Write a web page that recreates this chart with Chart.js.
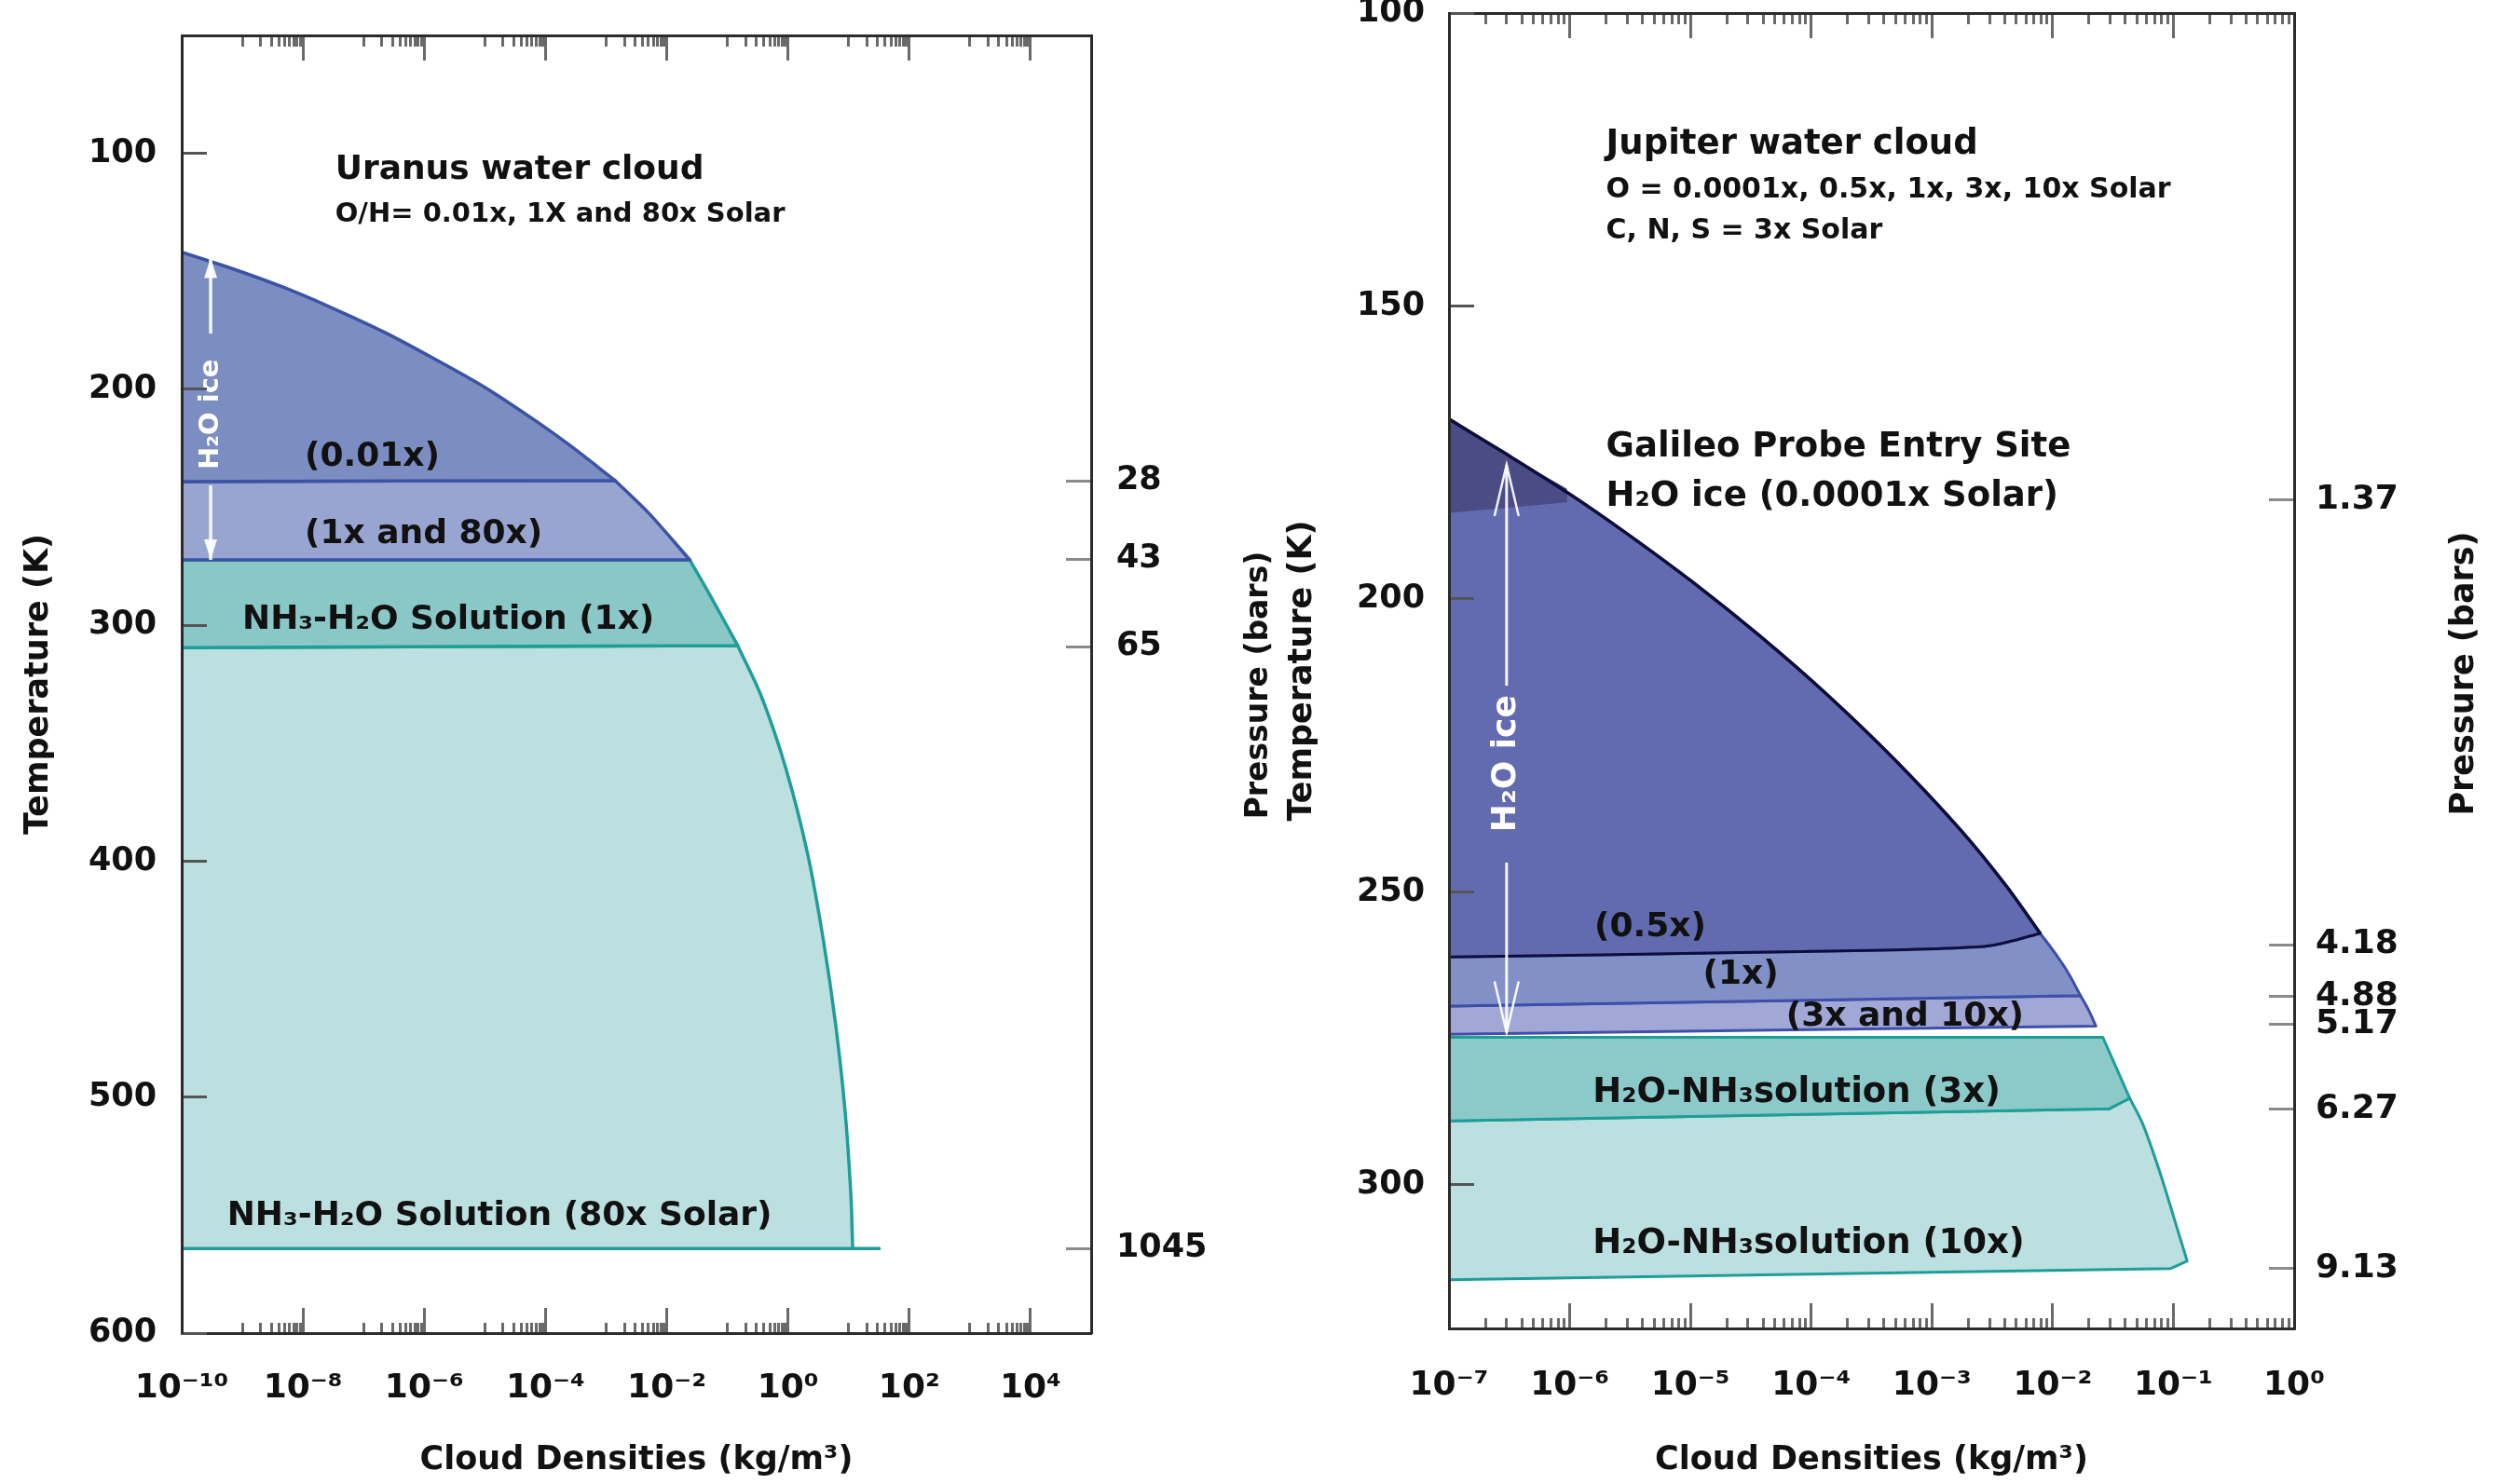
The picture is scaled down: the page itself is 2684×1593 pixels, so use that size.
<!DOCTYPE html>
<html>
<head>
<meta charset="utf-8">
<script src="https://cdn.jsdelivr.net/npm/chart.js@4.4.1/dist/chart.umd.min.js"></script>
<style>
  html, body { margin: 0; padding: 0; background: #fff; }
  #wrap { position: relative; width: 2684px; height: 1593px; }
  #uranusBox { position: absolute; left: 0; top: 0; width: 1375px; height: 1593px; }
  #jupiterBox { position: absolute; left: 1375px; top: 0; width: 1309px; height: 1593px; }
</style>
</head>
<body>
<div id="wrap">
  <div id="uranusBox"><canvas id="uranus"></canvas></div>
  <div id="jupiterBox"><canvas id="jupiter"></canvas></div>
</div>
<script>
/*
================================================================
Data - Uranus water cloud (left)
density in kg/m3, temperature in K
================================================================
*/
const uranusTempTicks = [100, 200, 300, 400, 500, 600];
const uranusPressureLabels = ['28', '43', '65', '1045'];
const uranusPressureT = [238.8, 271.9, 309.1, 564.2];
const uranusMajorExp = [-10, -8, -6, -4, -2, 0, 2, 4];
const uranusMinorDecades = [-9, -7, -5, -3, -1, 1, 3];

// ice saturation curve (0.01x part ends at index 9)
const uranusIceRho = [1e-10, 6.9e-10, 4.8e-9, 3.2e-8, 2.2e-7, 1.5e-6, 1.1e-5, 7.4e-5, 2.6e-4, 1.4e-3, 5.1e-3, 2.4e-2];
const uranusIceT = [141.9, 148.9, 156.8, 165.8, 175.8, 187.2, 199.8, 213.9, 224.0, 238.6, 252.6, 272.3];
// NH3-H2O solution edge (1x part ends at index 2)
const uranusSolRho = [2.4e-2, 5.4e-2, 0.148, 0.358, 0.918, 2.1, 3.8, 6.1, 8.7, 10.9, 11.6];
const uranusSolT = [272.3, 288.1, 308.6, 329.7, 360.5, 396.7, 432.9, 469.1, 505.4, 541.6, 562.4];
// flat bottoms of the bands, at the left axis
const uranusBandBaseT = [239.1, 272.3, 309.5, 564.2];
// bottom line of the 80x solution runs out to this density
const uranusSol80BaseRho = [11.7, 32];

/*
================================================================
Data - Jupiter water cloud (right)
================================================================
*/
const jupiterTempTicks = [100, 150, 200, 250, 300];
const jupiterPressureLabels = ['1.37', '4.18', '4.88', '5.17', '6.27', '9.13'];
const jupiterPressureT = [183.1, 259.0, 267.8, 272.6, 287.0, 314.3];
const jupiterMajorExp = [-7, -6, -5, -4, -3, -2, -1, 0];
const jupiterMinorDecades = [-7, -6, -5, -4, -3, -2, -1];

// ice saturation curve and outer edge (0.5x ends at 10, 1x at 13, 3x/10x at 15)
const jupCurveRho = [1e-7, 3.0e-7, 1.0e-6, 3.0e-6, 1.07e-5, 3.8e-5, 1.35e-4, 4.9e-4, 1.74e-3, 4.1e-3, 7.9e-3, 1.05e-2, 1.36e-2, 1.7e-2, 2.0e-2, 2.28e-2];
const jupCurveT = [169.3, 175.3, 182.1, 188.9, 197.3, 206.4, 216.3, 227.4, 239.5, 248.9, 257.1, 260.5, 264.0, 267.7, 270.3, 272.9];
// bottom of 0.5x band, right to left
const jupHalfBaseRho = [7.9e-3, 2.7e-3, 3.2e-5, 1e-7];
const jupHalfBaseT = [257.1, 259.3, 260.3, 261.1];
// 0.0001x patch (Galileo probe entry site)
const jupDarkRho = [1e-7, 3.0e-7, 9.5e-7, 9.5e-7, 1e-7];
const jupDarkT = [169.3, 175.3, 181.2, 183.5, 185.3];
// left ends of the 1x and 3x/10x band bottoms
const jupBandBaseT = [269.5, 274.3];
// H2O-NH3 solution 3x (corners)
const jupSol3Rho = [1e-7, 2.6e-2, 4.35e-2, 2.95e-2, 1e-7];
const jupSol3T = [274.8, 274.8, 285.2, 287.0, 289.1];
// H2O-NH3 solution 10x right edge, then bottom corners
const jupSol10Rho = [4.35e-2, 5.6e-2, 7.8e-2, 0.101, 0.130];
const jupSol10T = [285.2, 289.7, 298.1, 305.6, 313.0];
const jupSol10BaseRho = [9.4e-2, 1e-7];
const jupSol10BaseT = [314.3, 316.2];

// text placed on the plots (rho / t are data coords of the left-middle of the text)
const uranusNotes = [
    { text: 'Uranus water cloud', rho: 3.4e-8, t: 107.2, size: 36 },
    { text: 'O/H= 0.01x, 1X and 80x Solar', rho: 3.4e-8, t: 126, size: 29 },
    { text: '(0.01x)', rho: 1.07e-8, t: 228.9, size: 36 },
    { text: '(1x and 80x)', rho: 1.07e-8, t: 261.3, size: 36 },
    { text: 'NH₃-H₂O Solution (1x)', rho: 1e-9, t: 297.7, size: 36 },
    { text: 'NH₃-H₂O Solution (80x Solar)', rho: 5.6e-10, t: 550.7, size: 36 },
    { text: 'H₂O ice', rho: 3.0e-10, t: 210.6, size: 29, color: '#fff', vertical: true }
];
const uranusArrows = [
    { rho: 3.0e-10, from: 176.4, to: 144.2, head: 'solid' },
    { rho: 3.0e-10, from: 240.8, to: 272.3, head: 'solid' }
];
const jupiterNotes = [
    { text: 'Jupiter water cloud', rho: 2.0e-6, t: 122.5, size: 37 },
    { text: 'O = 0.0001x, 0.5x, 1x, 3x, 10x Solar', rho: 2.0e-6, t: 130.2, size: 30 },
    { text: 'C, N, S = 3x Solar', rho: 2.0e-6, t: 137.2, size: 30 },
    { text: 'Galileo Probe Entry Site', rho: 2.0e-6, t: 174.1, size: 37 },
    { text: 'H₂O ice (0.0001x Solar)', rho: 2.0e-6, t: 182.6, size: 37 },
    { text: '(0.5x)', rho: 1.6e-6, t: 256.0, size: 36 },
    { text: '(1x)', rho: 1.27e-5, t: 264.2, size: 36 },
    { text: '(3x and 10x)', rho: 6.2e-5, t: 271.4, size: 36 },
    { text: 'H₂O-NH₃solution (3x)', rho: 1.55e-6, t: 284.3, size: 37 },
    { text: 'H₂O-NH₃solution (10x)', rho: 1.55e-6, t: 310.1, size: 37 },
    { text: 'H₂O ice', rho: 3.0e-7, t: 228.1, size: 36, color: '#fff', vertical: true }
];
const jupiterArrows = [
    { rho: 3.0e-7, from: 214.8, to: 177.1, head: 'open' },
    { rho: 3.0e-7, from: 245.0, to: 274.0, head: 'open' }
];

/*
================================================================
Helpers
================================================================
*/
const FAMILY = '"DejaVu Sans", "Liberation Sans", sans-serif';
Chart.defaults.font.family = FAMILY;
Chart.defaults.color = '#111';

const fontB = (size) => ({ size: size, weight: 'bold', family: FAMILY });

const SUP = '⁻⁰¹²³⁴⁵⁶⁷⁸⁹';
const sup = (n) => String(n).split('').map(c => SUP['-0123456789'.indexOf(c)]).join('');

// piece of a boundary: [xs, ys], optionally sliced
const piece = (xs, ys, from, to) => [xs.slice(from, to), ys.slice(from, to)];
// single corner point
const corner = (x, y) => [[x], [y]];

// join pieces into one path; piece ends are doubled so the spline keeps sharp corners
const shape = (pieces) => {
    let pts = [];
    pieces.forEach(p => {
        const xs = p[0], ys = p[1];
        xs.forEach((x, i) => {
            pts.push({ x: x, y: ys[i] });
            if (i === 0 || i === xs.length - 1) pts.push({ x: x, y: ys[i] });
        });
    });
    return pts;
}
// plain polygon, every vertex is a corner
const poly = (xs, ys) => shape(xs.map((x, i) => corner(x, ys[i])));

// log ticks: labelled decades + short minor ticks k*10^d
const logTicks = (majors, minorDecades, kFrom) => {
    let ticks = [];
    majors.forEach(e => ticks.push({ value: Math.pow(10, e), isMajor: true, exp: e }));
    minorDecades.forEach(d => {
        for (let k = kFrom; k <= 9; k++) {
            ticks.push({ value: k * Math.pow(10, d), isMajor: false });
        }
    });
    return ticks.sort((a, b) => a.value - b.value);
}

// fixed axis size so the plot area lands where it should
const fixSize = (prop, size) => (axis) => {
    axis[prop] = size;
    axis.paddingTop = 0; axis.paddingBottom = 0; axis.paddingLeft = 0; axis.paddingRight = 0;
}

const region = (pts, fillColor, lineColor, width) => ({
    data: pts,
    fill: fillColor ? 'shape' : false,
    backgroundColor: fillColor || 'rgba(0,0,0,0)',
    borderColor: lineColor,
    borderWidth: width,
    borderJoinStyle: 'round',
    pointRadius: 0,
    pointHoverRadius: 0,
    tension: 0.3
});

const border = { display: true, color: '#2b2b2b', width: 3, z: 1 };

const xAxis = (min, max, majors, minors, kFrom, height, pad, titlePad) => ({
    type: 'logarithmic', position: 'bottom', min: min, max: max,
    afterBuildTicks: axis => { axis.ticks = logTicks(majors, minors, kFrom); },
    afterFit: fixSize('height', height),
    ticks: {
        autoSkip: false, maxRotation: 0, minRotation: 0, padding: pad, font: fontB(36), color: '#111',
        callback: (v, i, t) => t[i].isMajor ? '10' + sup(t[i].exp) : ''
    },
    grid: {
        drawOnChartArea: false, drawTicks: true, tickLength: -27, tickWidth: 3, tickColor: '#6a6a6a', z: 1,
        tickBorderDash: c => (c.tick && c.tick.isMajor) ? [] : [13, 200]
    },
    border: border,
    title: { display: true, text: 'Cloud Densities (kg/m³)', font: fontB(35), color: '#111', padding: { top: 0, bottom: titlePad } }
});

const xTopAxis = (min, max, majors, minors, kFrom, height) => ({
    type: 'logarithmic', position: 'top', min: min, max: max,
    afterBuildTicks: axis => { axis.ticks = logTicks(majors, minors, kFrom); },
    afterFit: fixSize('height', height),
    ticks: { display: false, autoSkip: false },
    grid: {
        drawOnChartArea: false, drawTicks: true, tickLength: -27, tickWidth: 3, tickColor: '#6a6a6a', z: 1,
        tickBorderDash: c => (c.tick && c.tick.isMajor) ? [] : [13, 200],
        tickBorderDashOffset: c => (c.tick && c.tick.isMajor) ? 0 : 198
    },
    border: border
});

const tempAxis = (min, max, values, width, pad, titlePad) => ({
    type: 'linear', position: 'left', reverse: true, min: min, max: max,
    afterBuildTicks: axis => { axis.ticks = values.map(v => ({ value: v })); },
    afterFit: fixSize('width', width),
    ticks: { padding: pad, font: fontB(35), color: '#111', callback: v => String(v) },
    grid: { drawOnChartArea: false, drawTicks: true, tickLength: -27, tickWidth: 3, tickColor: '#555', z: 1 },
    border: border,
    title: { display: true, text: 'Temperature (K)', font: fontB(35), color: '#111', padding: { top: titlePad, bottom: 0 } }
});

const pressureAxis = (min, max, temps, labels, width, pad, size) => ({
    type: 'linear', position: 'right', reverse: true, min: min, max: max,
    afterBuildTicks: axis => { axis.ticks = temps.map(v => ({ value: v })); },
    afterFit: fixSize('width', width),
    ticks: { padding: pad, font: fontB(size), color: '#111', callback: (v, i) => labels[i] },
    grid: { drawOnChartArea: false, drawTicks: true, tickLength: -27, tickWidth: 3, tickColor: '#8a8a8a', z: 1 },
    border: border
});

// texts, white H2O ice arrows and the right-hand "Pressure (bars)" title
const notesPlugin = (notes, arrows, side) => ({
    id: 'notes',
    afterDatasetsDraw(chart) {
        const { ctx, chartArea } = chart;
        const x = chart.scales.x, y = chart.scales.y;
        ctx.save();
        notes.forEach(n => {
            const px = x.getPixelForValue(n.rho), py = y.getPixelForValue(n.t);
            ctx.font = 'bold ' + n.size + 'px ' + FAMILY;
            ctx.fillStyle = n.color || '#111';
            ctx.textBaseline = 'middle';
            if (n.vertical) {
                ctx.save();
                ctx.translate(px, py);
                ctx.rotate(-Math.PI / 2);
                ctx.textAlign = 'center';
                ctx.fillText(n.text, 0, 0);
                ctx.restore();
            } else {
                ctx.textAlign = 'left';
                ctx.fillText(n.text, px, py);
            }
        });
        arrows.forEach(a => {
            const px = x.getPixelForValue(a.rho);
            const y0 = y.getPixelForValue(a.from), y1 = y.getPixelForValue(a.to);
            const dir = Math.sign(y1 - y0);
            ctx.strokeStyle = 'rgba(255,255,255,0.92)';
            ctx.fillStyle = 'rgba(255,255,255,0.92)';
            ctx.lineWidth = a.head === 'solid' ? 3.5 : 3;
            ctx.beginPath();
            ctx.moveTo(px, y0);
            ctx.lineTo(px, y1);
            ctx.stroke();
            if (a.head === 'solid') {
                ctx.beginPath();
                ctx.moveTo(px, y1);
                ctx.lineTo(px - 7, y1 - dir * 22);
                ctx.lineTo(px + 7, y1 - dir * 22);
                ctx.closePath();
                ctx.fill();
            } else {
                ctx.lineWidth = 2.5;
                ctx.beginPath();
                ctx.moveTo(px - 13, y1 - dir * 55);
                ctx.lineTo(px, y1);
                ctx.lineTo(px + 13, y1 - dir * 55);
                ctx.stroke();
            }
        });
        if (side) {
            ctx.save();
            ctx.translate(chartArea.right + side.dx, (chartArea.top + chartArea.bottom) / 2 + side.dy);
            ctx.rotate(-Math.PI / 2);
            ctx.font = 'bold ' + side.size + 'px ' + FAMILY;
            ctx.fillStyle = '#111';
            ctx.textAlign = 'center';
            ctx.textBaseline = 'middle';
            ctx.fillText(side.text, 0, 0);
            ctx.restore();
        }
        ctx.restore();
    }
});

const baseOptions = {
    responsive: true,
    maintainAspectRatio: false,
    animation: false,
    events: [],
    layout: { padding: 0, autoPadding: false },
    plugins: { legend: { display: false }, tooltip: { enabled: false } }
};

/*
================================================================
Uranus chart
================================================================
*/
const uranusChart = () => {
    const ctx = document.getElementById('uranus');
    const L = 1e-10;
    const base = uranusBandBaseT;
    const ice001 = shape([piece(uranusIceRho, uranusIceT, 0, 10), corner(L, base[0])]);
    const ice1x = shape([corner(L, base[0]), piece(uranusIceRho, uranusIceT, 9), corner(L, base[1])]);
    const sol1x = shape([corner(L, base[1]), piece(uranusSolRho, uranusSolT, 0, 3), corner(L, base[2])]);
    const sol80x = shape([corner(L, base[2]), piece(uranusSolRho, uranusSolT, 2),
        corner(uranusSol80BaseRho[0], base[3]), corner(uranusSol80BaseRho[1], base[3]), corner(L, base[3])]);

    new Chart(ctx, {
        type: 'line',
        data: {
            datasets: [
                region(ice001, '#7c8dc2', '#3a53a6', 3.5),
                region(ice1x, '#98a5d0', '#3a53a6', 3.5),
                region(sol1x, '#8ac8c8', '#1f9d99', 3.5),
                region(sol80x, '#bcdfdf', '#1f9d99', 3.5)
            ]
        },
        options: Object.assign({}, baseOptions, {
            scales: {
                x: xAxis(1e-10, 1e5, uranusMajorExp, uranusMinorDecades, 1, 162, 65, 4),
                xTop: xTopAxis(1e-10, 1e5, uranusMajorExp, uranusMinorDecades, 1, 38),
                y: tempAxis(50, 600, uranusTempTicks, 195, 54, 20.5),
                yP: pressureAxis(50, 600, uranusPressureT, uranusPressureLabels, 204, 54, 35)
            }
        }),
        plugins: [notesPlugin(uranusNotes, uranusArrows, { text: 'Pressure (bars)', dx: 180, dy: 1, size: 33 })]
    });
}

/*
================================================================
Jupiter chart
================================================================
*/
const jupiterChart = () => {
    const ctx = document.getElementById('jupiter');
    const L = 1e-7;
    const curve = piece(jupCurveRho, jupCurveT, 0, 11);
    const dark = shape([piece(jupDarkRho, jupDarkT, 0, 3), corner(jupDarkRho[3], jupDarkT[3]), corner(jupDarkRho[4], jupDarkT[4])]);
    const half = shape([curve, [jupHalfBaseRho, jupHalfBaseT]]);
    const one = shape([[jupHalfBaseRho.slice().reverse(), jupHalfBaseT.slice().reverse()],
        piece(jupCurveRho, jupCurveT, 10, 14), corner(L, jupBandBaseT[0])]);
    const three = shape([corner(L, jupBandBaseT[0]), piece(jupCurveRho, jupCurveT, 13), corner(L, jupBandBaseT[1])]);
    const sol3 = poly(jupSol3Rho, jupSol3T);
    const sol10 = shape([corner(L, jupSol3T[4]), corner(jupSol3Rho[3], jupSol3T[3]),
        [jupSol10Rho, jupSol10T], [jupSol10BaseRho, jupSol10BaseT]]);

    new Chart(ctx, {
        type: 'line',
        data: {
            datasets: [
                region(shape([curve]), null, '#0e0e3c', 3.5),
                region(dark, '#4b4b86', 'rgba(0,0,0,0)', 0),
                region(half, '#636bb0', '#0e0e3c', 3),
                region(one, '#8290c8', '#3d4fa8', 3),
                region(three, '#a2a8d6', '#3d4fa8', 3),
                region(sol3, '#8ccaca', '#1f9d99', 3),
                region(sol10, '#bcdfdf', '#1f9d99', 3)
            ]
        },
        options: Object.assign({}, baseOptions, {
            scales: {
                x: xAxis(1e-7, 1, jupiterMajorExp, jupiterMinorDecades, 2, 167, 67, 4),
                xTop: xTopAxis(1e-7, 1, jupiterMajorExp, jupiterMinorDecades, 2, 14),
                y: tempAxis(100, 324.5, jupiterTempTicks, 180, 53, 2),
                yP: pressureAxis(100, 324.5, jupiterPressureT, jupiterPressureLabels, 222, 50, 36)
            }
        }),
        plugins: [notesPlugin(jupiterNotes, jupiterArrows, { text: 'Pressure (bars)', dx: 183, dy: 3, size: 35 })]
    });
}

uranusChart();
jupiterChart();
</script>
</body>
</html>
